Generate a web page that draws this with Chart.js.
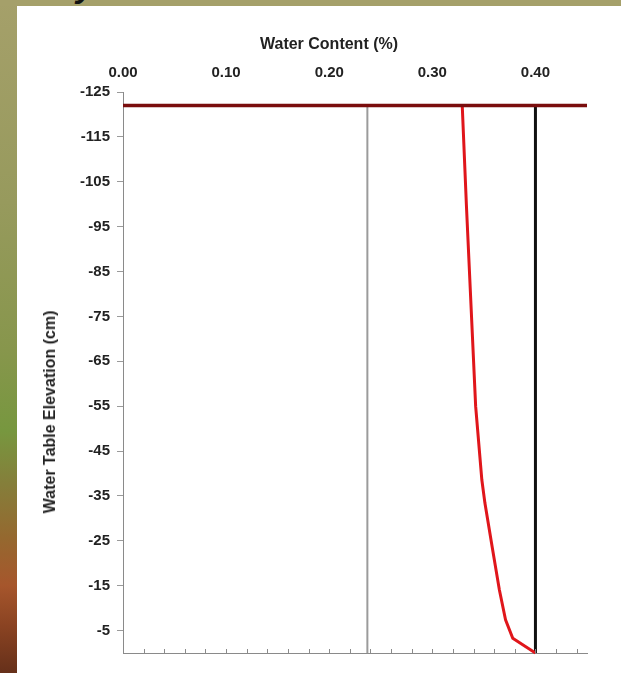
<!DOCTYPE html>
<html>
<head>
<meta charset="utf-8">
<script src="https://cdn.jsdelivr.net/npm/chart.js@4/dist/chart.umd.min.js"></script>
<style>
  html, body { margin: 0; padding: 0; }
  body {
    width: 621px; height: 673px; overflow: hidden; position: relative;
    background: linear-gradient(to bottom, #a5a06a 0%, #979a5d 30%, #87964c 52%, #77973f 64%, #857e3a 72%, #95682f 80%, #a6562c 87%, #8a4322 93%, #66301a 100%);
  }
  .topband { position: absolute; left: 0; top: 0; width: 621px; height: 6px; background: #a5a06a; overflow: hidden; }
  .topband span { position: absolute; left: 76px; top: -34px; font: italic bold 34px "Liberation Sans", Arial, sans-serif; color: #111; }
  .panel { position: absolute; left: 17px; top: 6px; width: 604px; height: 667px; background: #fff; }
  .axis-title { position: absolute; font: bold 16px "Liberation Sans", Arial, sans-serif; color: #222; white-space: nowrap; }
  #xTitle { left: 329px; top: 44px; transform: translate(-50%, -50%); }
  #yTitle { left: 50px; top: 412px; transform: translate(-50%, -50%) rotate(-90deg); }
</style>
</head>
<body>
<div class="topband"><span>y</span></div>
<div class="panel">
  <canvas id="chart"></canvas>
</div>
<div class="axis-title" id="xTitle">Water Content (%)</div>
<div class="axis-title" id="yTitle">Water Table Elevation (cm)</div>

<script>
// ---- Data ----
const xTicks = [0, 0.1, 0.2, 0.3, 0.4];
const yTicks = [-125, -115, -105, -95, -85, -75, -65, -55, -45, -35, -25, -15, -5];
const minorTicks = [0.02, 0.04, 0.06, 0.08, 0.10, 0.12, 0.14, 0.16, 0.18, 0.20, 0.22,
  0.24, 0.26, 0.28, 0.30, 0.32, 0.34, 0.36, 0.38, 0.40, 0.42, 0.44];

const waterTable = -122;          // horizontal line elevation
const waterTableSpan = [0, 0.45]; // x extent of that line
const residualContent = 0.237;    // grey vertical
const saturatedContent = 0.40;    // black vertical

const profileDepth = [-122, -100, -80, -55, -38.6, -33.4, -23.7, -14.1, -7.4, -3.3, 0];
const profileContent = [0.329, 0.333, 0.337, 0.342, 0.348, 0.351, 0.358, 0.365, 0.371, 0.378, 0.40];

const font = { family: '"Liberation Sans", Arial, sans-serif', size: 15, weight: 'bold' };

// ---- Minor ticks on bottom axis (drawn inward) ----
const minorTickPlugin = {
  id: 'minorTicks',
  afterDraw(chart) {
    const sc = chart.scales.x2;
    const ctx = chart.ctx;
    ctx.save();
    ctx.strokeStyle = '#8a8a8a';
    ctx.lineWidth = 1;
    ctx.beginPath();
    minorTicks.forEach((v) => {
      const px = Math.round(sc.getPixelForValue(v)) + 0.5;
      ctx.moveTo(px, sc.top);
      ctx.lineTo(px, sc.top - 4);
    });
    ctx.stroke();
    ctx.restore();
  }
};

new Chart(document.getElementById('chart'), {
  type: 'scatter',
  data: {
    datasets: [
      {
        data: [{ x: waterTableSpan[0], y: waterTable }, { x: waterTableSpan[1], y: waterTable }],
        borderColor: '#7a0d0d', borderWidth: 3.5, order: 0
      },
      {
        data: [{ x: residualContent, y: waterTable }, { x: residualContent, y: 0 }],
        borderColor: '#9b9b9b', borderWidth: 2, order: 3
      },
      {
        data: [{ x: saturatedContent, y: waterTable }, { x: saturatedContent, y: 0 }],
        borderColor: '#111', borderWidth: 3, order: 2
      },
      {
        data: profileDepth.map((d, i) => ({ x: profileContent[i], y: d })),
        borderColor: '#e0161b', borderWidth: 3, order: 1
      }
    ].map((ds) => Object.assign(ds, {
      showLine: true, pointRadius: 0, pointHoverRadius: 0, fill: false,
      tension: 0, clip: false, xAxisID: 'x', yAxisID: 'y'
    }))
  },
  options: {
    responsive: true,
    maintainAspectRatio: false,
    animation: false,
    layout: { padding: { top: 0, left: 0, right: 34, bottom: 20 } },
    plugins: { legend: { display: false }, tooltip: { enabled: false } },
    scales: {
      x: {
        type: 'linear', position: 'top', min: 0, max: 0.45,
        afterBuildTicks: (s) => { s.ticks = xTicks.map((v) => ({ value: v })); },
        afterFit: (s) => { s.height = 86; },
        grid: { display: false, drawTicks: false },
        border: { display: false },
        ticks: { color: '#222', font: font, padding: 10, callback: (v) => Number(v).toFixed(2) }
      },
      x2: {
        type: 'linear', position: 'bottom', min: 0, max: 0.45,
        grid: { display: false, drawTicks: false },
        border: { display: true, color: '#8a8a8a', width: 1 },
        ticks: { display: false }
      },
      y: {
        type: 'linear', position: 'left', min: -125, max: 0, reverse: true,
        afterBuildTicks: (s) => { s.ticks = yTicks.map((v) => ({ value: v })); },
        afterFit: (s) => { s.width = 106; },
        grid: { drawOnChartArea: false, drawTicks: true, tickLength: 6, color: '#9a9a9a' },
        border: { display: true, color: '#8a8a8a', width: 1 },
        ticks: { color: '#222', font: font, padding: 7 }
      }
    }
  },
  plugins: [minorTickPlugin]
});
</script>
</body>
</html>
